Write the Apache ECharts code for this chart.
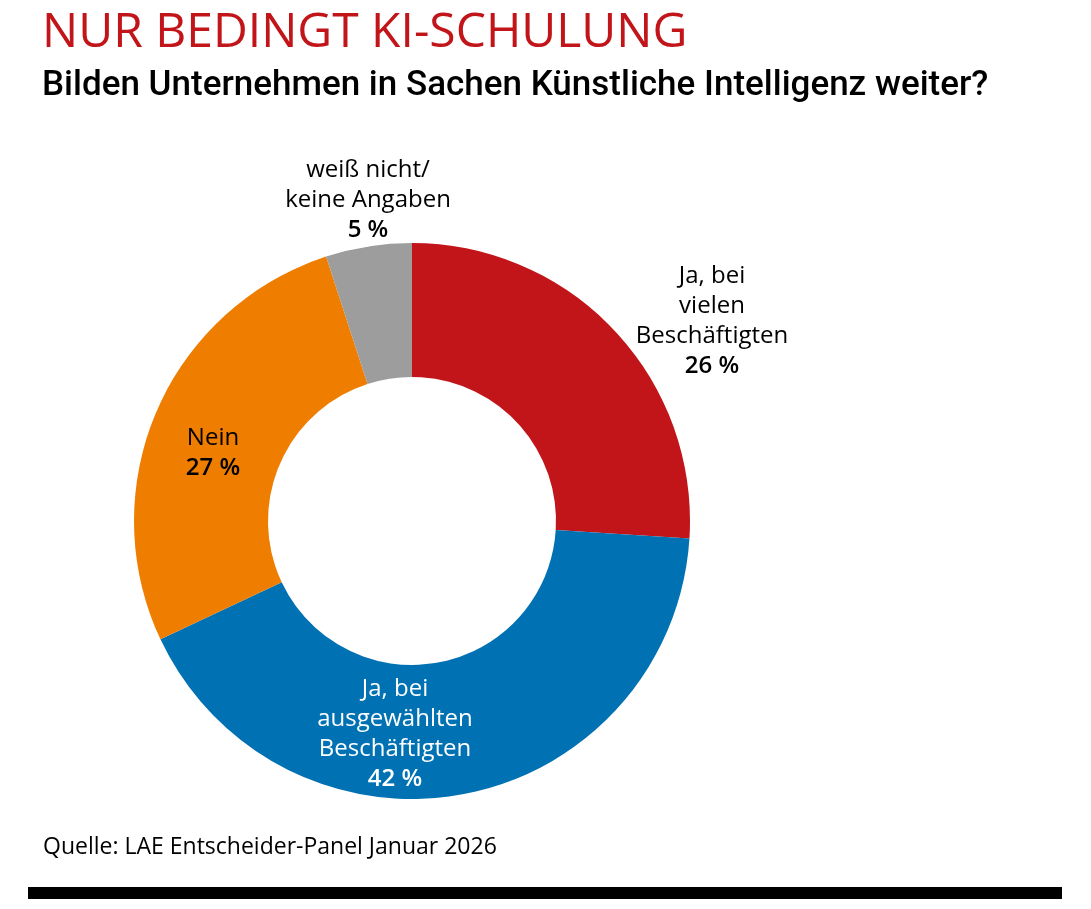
<!DOCTYPE html>
<html>
<head>
<meta charset="utf-8">
<script src="https://cdn.jsdelivr.net/npm/echarts@6/dist/echarts.min.js"></script>
<style>
  html, body { margin: 0; padding: 0; background: #fff; }
  #chart { width: 1091px; height: 909px; }
</style>
</head>
<body>
<div id="chart"></div>
<script>
// Daten
var categories = ['Ja, bei\nvielen\nBeschäftigten', 'Ja, bei\nausgewählten\nBeschäftigten', 'Nein', 'weiß nicht/\nkeine Angaben']
var values = [26, 42, 27, 5]
var colors = ['#C1151A', '#0071B3', '#EE7D00', '#9D9D9D']
var labelColors = ['#000', '#fff', '#000', '#000']

var FONT = '"Open Sans", sans-serif'
var FONT2 = 'Roboto, "Open Sans", sans-serif'

// Label-Positionen (Mitte des Textblocks)
var labelPos = [[712, 321], [395, 734], [213, 453], [368, 200]]

var chart = echarts.init(document.getElementById('chart'))

var pieData = values.map(function(v, i) {
  return {
    name: categories[i],
    value: v,
    itemStyle: { color: colors[i] },
    label: { color: labelColors[i] }
  }
})

var option = {
  backgroundColor: '#fff',
  animation: false,
  title: [
    {
      text: 'NUR BEDINGT KI-SCHULUNG',
      left: 37,
      top: 4,
      textStyle: { color: '#C1151A', fontSize: 48, fontWeight: 500, fontFamily: FONT }
    },
    {
      text: 'Bilden Unternehmen in Sachen Künstliche Intelligenz weiter?',
      left: 37,
      top: 64,
      textStyle: { color: '#000', fontSize: 35, fontWeight: 500, fontFamily: FONT2 }
    },
    {
      text: 'Quelle: LAE Entscheider-Panel Januar 2026',
      left: 38,
      top: 831,
      textStyle: { color: '#000', fontSize: 23, fontWeight: 'normal', fontFamily: FONT }
    }
  ],
  graphic: [
    {
      type: 'rect',
      shape: { x: 28, y: 887, width: 1034, height: 12 },
      style: { fill: '#000' }
    }
  ],
  series: [
    {
      type: 'pie',
      center: [412, 521],
      radius: [144, 278],
      startAngle: 90,
      clockwise: true,
      avoidLabelOverlap: false,
      labelLine: { show: false },
      emphasis: { disabled: true },
      label: {
        show: true,
        position: 'inside',
        formatter: function(p) {
          return p.name + '\n{b|' + p.value + ' %}'
        },
        fontFamily: FONT,
        fontSize: 24,
        lineHeight: 30,
        align: 'center',
        rich: {
          b: { fontFamily: FONT, fontSize: 24, lineHeight: 30, fontWeight: 600 }
        }
      },
      labelLayout: function(params) {
        var p = labelPos[params.dataIndex]
        return { x: p[0], y: p[1], align: 'center', verticalAlign: 'middle' }
      },
      data: pieData
    }
  ]
}

chart.setOption(option)
</script>
</body>
</html>
